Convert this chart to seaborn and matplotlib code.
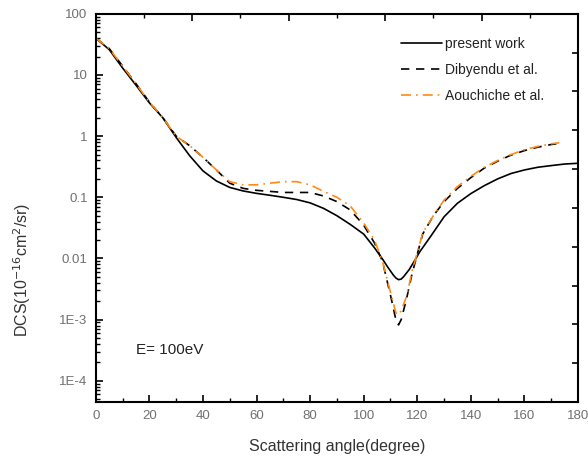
import numpy as np
import pandas as pd
import matplotlib
matplotlib.use("Agg")
import matplotlib.pyplot as plt
import seaborn as sns
from matplotlib.ticker import FixedLocator, FuncFormatter, LogLocator, MultipleLocator, NullFormatter

# Differential cross sections (10^-16 cm^2/sr) vs scattering angle, E = 100 eV
angle_present = [0, 5, 10, 15, 20, 25, 30, 35, 40, 45, 50, 55, 60, 65, 70, 75, 80, 85, 90,
                 95, 100, 104, 107, 109, 111, 112, 113, 114, 115, 117, 119, 121, 125, 130,
                 135, 140, 145, 150, 155, 160, 165, 170, 175, 180]
dcs_present = [40, 26, 13, 6.8, 3.5, 2.0, 0.95, 0.48, 0.27, 0.185, 0.145, 0.127, 0.116,
               0.108, 0.1, 0.092, 0.081, 0.066, 0.05, 0.036, 0.025, 0.015, 0.0098, 0.0072,
               0.0054, 0.0048, 0.0045, 0.0046, 0.0051, 0.0066, 0.0092, 0.013, 0.023, 0.048,
               0.08, 0.115, 0.155, 0.2, 0.245, 0.28, 0.31, 0.33, 0.35, 0.36]

angle_dibyendu = [0, 5, 10, 15, 20, 25, 30, 35, 40, 45, 50, 55, 60, 65, 70, 75, 80, 85, 90,
                  95, 100, 104, 107, 110, 112, 113, 114, 116, 118, 122, 126, 130, 135, 140,
                  145, 150, 155, 160, 165, 170, 172]
dcs_dibyendu = [40, 27, 14, 7.2, 3.6, 2.0, 1.0, 0.7, 0.45, 0.28, 0.17, 0.14, 0.13, 0.125,
                0.12, 0.12, 0.12, 0.105, 0.085, 0.062, 0.035, 0.018, 0.009, 0.0025, 0.001,
                0.00082, 0.001, 0.0022, 0.0055, 0.025, 0.05, 0.085, 0.14, 0.21, 0.3, 0.39,
                0.49, 0.58, 0.66, 0.73, 0.75]

angle_aouchiche = [0, 5, 10, 15, 20, 25, 30, 35, 40, 45, 50, 55, 60, 65, 70, 75, 80, 85, 90,
                   95, 100, 104, 107, 110, 112, 113, 114, 116, 118, 122, 126, 130, 135, 140,
                   145, 150, 155, 160, 165, 170, 173]
dcs_aouchiche = [40, 27, 14, 7.2, 3.6, 2.0, 1.0, 0.7, 0.45, 0.28, 0.18, 0.16, 0.16, 0.17,
                 0.18, 0.18, 0.16, 0.125, 0.1, 0.072, 0.038, 0.02, 0.009, 0.0028, 0.0013,
                 0.0012, 0.0014, 0.0024, 0.006, 0.026, 0.05, 0.09, 0.15, 0.22, 0.31, 0.4,
                 0.5, 0.6, 0.68, 0.75, 0.78]

y_ticks = [1e2, 1e1, 1e0, 1e-1, 1e-2, 1e-3, 1e-4]
y_tick_labels = ["100", "10", "1", "0.1", "0.01", "1E-3", "1E-4"]
x_ticks = list(range(0, 181, 20))

sns.set_theme(style="ticks")
plt.rcParams["font.family"] = ["Liberation Sans", "DejaVu Sans"]

fig = plt.figure(figsize=(5.88, 4.61), dpi=100)
ax = fig.add_axes([0.163, 0.128, 0.820, 0.842])

orange = "#FF8A14"
df_p = pd.DataFrame({"angle": angle_present, "dcs": dcs_present})
df_d = pd.DataFrame({"angle": angle_dibyendu, "dcs": dcs_dibyendu})
df_a = pd.DataFrame({"angle": angle_aouchiche, "dcs": dcs_aouchiche})

sns.lineplot(data=df_p, x="angle", y="dcs", ax=ax, color="black", lw=1.2,
             label="present work")
sns.lineplot(data=df_d, x="angle", y="dcs", ax=ax, color="black", lw=1.2,
             label="Dibyendu et al.")
ax.lines[-1].set_dashes((5, 4))
sns.lineplot(data=df_a, x="angle", y="dcs", ax=ax, color=orange, lw=1.2,
             label="Aouchiche et al.")
ax.lines[-1].set_dashes((6, 3, 1, 3))

ax.set_yscale("log")
ax.set_xlim(0, 180)
ax.set_ylim(4.5e-5, 100)

ax.xaxis.set_major_locator(FixedLocator(x_ticks))
ax.xaxis.set_minor_locator(MultipleLocator(10))
ax.yaxis.set_major_locator(FixedLocator(y_ticks))
lab = dict(zip(y_ticks, y_tick_labels))
ax.yaxis.set_major_formatter(FuncFormatter(
    lambda v, p: next((s for k, s in lab.items() if abs(np.log10(v) - np.log10(k)) < 1e-6), "")))
ax.yaxis.set_minor_locator(LogLocator(base=10, subs=np.arange(2, 10), numticks=20))
ax.yaxis.set_minor_formatter(NullFormatter())

tick_color = "#707070"
ax.tick_params(axis="both", which="major", direction="in", length=5, width=1.2,
               labelsize=9.5, labelcolor=tick_color, color="black", pad=6)
ax.tick_params(axis="both", which="minor", direction="in", length=3, width=1.0,
               color="black")
ax.tick_params(top=False, right=False, which="both")

for s in ax.spines.values():
    s.set_linewidth(1.5)
    s.set_color("black")

# Linear tick marks on the top and right frame lines
tx = ax.twiny()
tx.set_xlim(0, 1)
tx.set_xticks(np.linspace(0, 1, 6))
tx.set_xticks(np.linspace(0.1, 0.9, 5), minor=True)
tx.tick_params(axis="x", which="major", direction="in", length=5, width=1.2,
               labeltop=False, color="black")
tx.tick_params(axis="x", which="minor", direction="in", length=3, width=1.0, color="black")
ty = ax.twinx()
ty.set_ylim(0, 1)
ty.set_yticks(np.linspace(0, 1, 11))
ty.tick_params(axis="y", direction="in", length=4, width=1.2, labelright=False,
               color="black")
for t in (tx, ty):
    for s in t.spines.values():
        s.set_visible(False)

ax.set_xlabel("Scattering angle(degree)", fontsize=11.5, color="#333333", labelpad=12)
ax.set_ylabel("DCS(10$^{-16}$cm$^{2}$/sr)", fontsize=11.5, color="#333333")
ax.yaxis.set_label_coords(-0.13, 0.34)

ax.text(15, 3.2e-4, "E= 100eV", fontsize=11, color="#222222", va="center")

leg = ax.legend(loc="upper left", bbox_to_anchor=(0.618, 0.958), frameon=False,
                fontsize=10, handlelength=3.0, handletextpad=0.15, borderpad=0,
                labelspacing=0.85)
for t in leg.get_texts():
    t.set_color("#222222")

fig.savefig("out.png", dpi=100)
